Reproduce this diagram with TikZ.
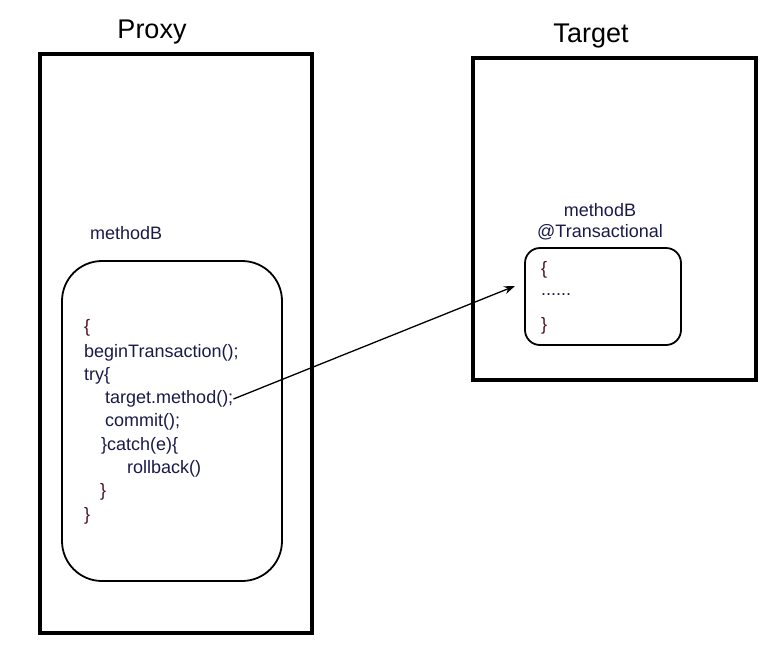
\documentclass[tikz,border=0pt]{standalone}
\usepackage{fontspec}
\setmainfont{Liberation Sans}
\usetikzlibrary{arrows.meta}
\definecolor{codecol}{HTML}{1A1A4A}
\definecolor{bracecol}{HTML}{4A1020}
\tikzset{
  outerbox/.style={draw, line width=3.5pt},
  innerbox/.style={draw, line width=1.8pt, rounded corners=#1},
  title/.style={font=\fontsize{27}{32}\selectfont, text=black},
  code/.style={anchor=west, inner sep=0pt, font=\fontsize{18}{22}\selectfont, text=codecol},
  brace/.style={code, text=bracecol},
  call/.style={draw, line width=1.3pt, -{Stealth[length=11pt,width=8pt]}}
}
\begin{document}
\begin{tikzpicture}[x=1pt,y=-1pt]
\useasboundingbox (0,0) rectangle (764,662);
% outer boxes
\draw[outerbox] (40,54) rectangle (312,633);
\draw[outerbox] (473,58) rectangle (756,380);
\node[title] (proxy) at (152,32) {Proxy};
\node[title] (target) at (591,36) {Target};
% left inner box
\draw[innerbox=40pt] (62,261) rectangle (282,581);
\node[code] (mB) at (90,233) {methodB};
\node[brace] (l1) at (84,328) {\{};
\node[code] (l2) at (84,353) {beginTransaction();};
\node[code] (l3) at (84,376) {try\{};
\node[code] (l4) at (105,399) {target.method();};
\node[code] (l5) at (105,422) {commit();};
\node[code] (l6) at (101,446) {\}catch(e)\{};
\node[code] (l7) at (127,469) {rollback()};
\node[brace] (l8) at (100,492) {\}};
\node[brace] (l9) at (84,516) {\}};
% right inner box
\node[code, anchor=center] (rB) at (600,210) {methodB};
\node[code, anchor=center] (rT) at (600,232) {@Transactional};
\draw[innerbox=15pt] (525,248) rectangle (681,345);
\coordinate (rin) at (515,286);
\node[brace] (r1) at (541,270) {\{};
\node[code] (r2) at (541,295) {......};
\node[brace] (r3) at (541,326) {\}};
% connector
\draw[call] (l4.east) -- (rin);
\end{tikzpicture}
\end{document}
